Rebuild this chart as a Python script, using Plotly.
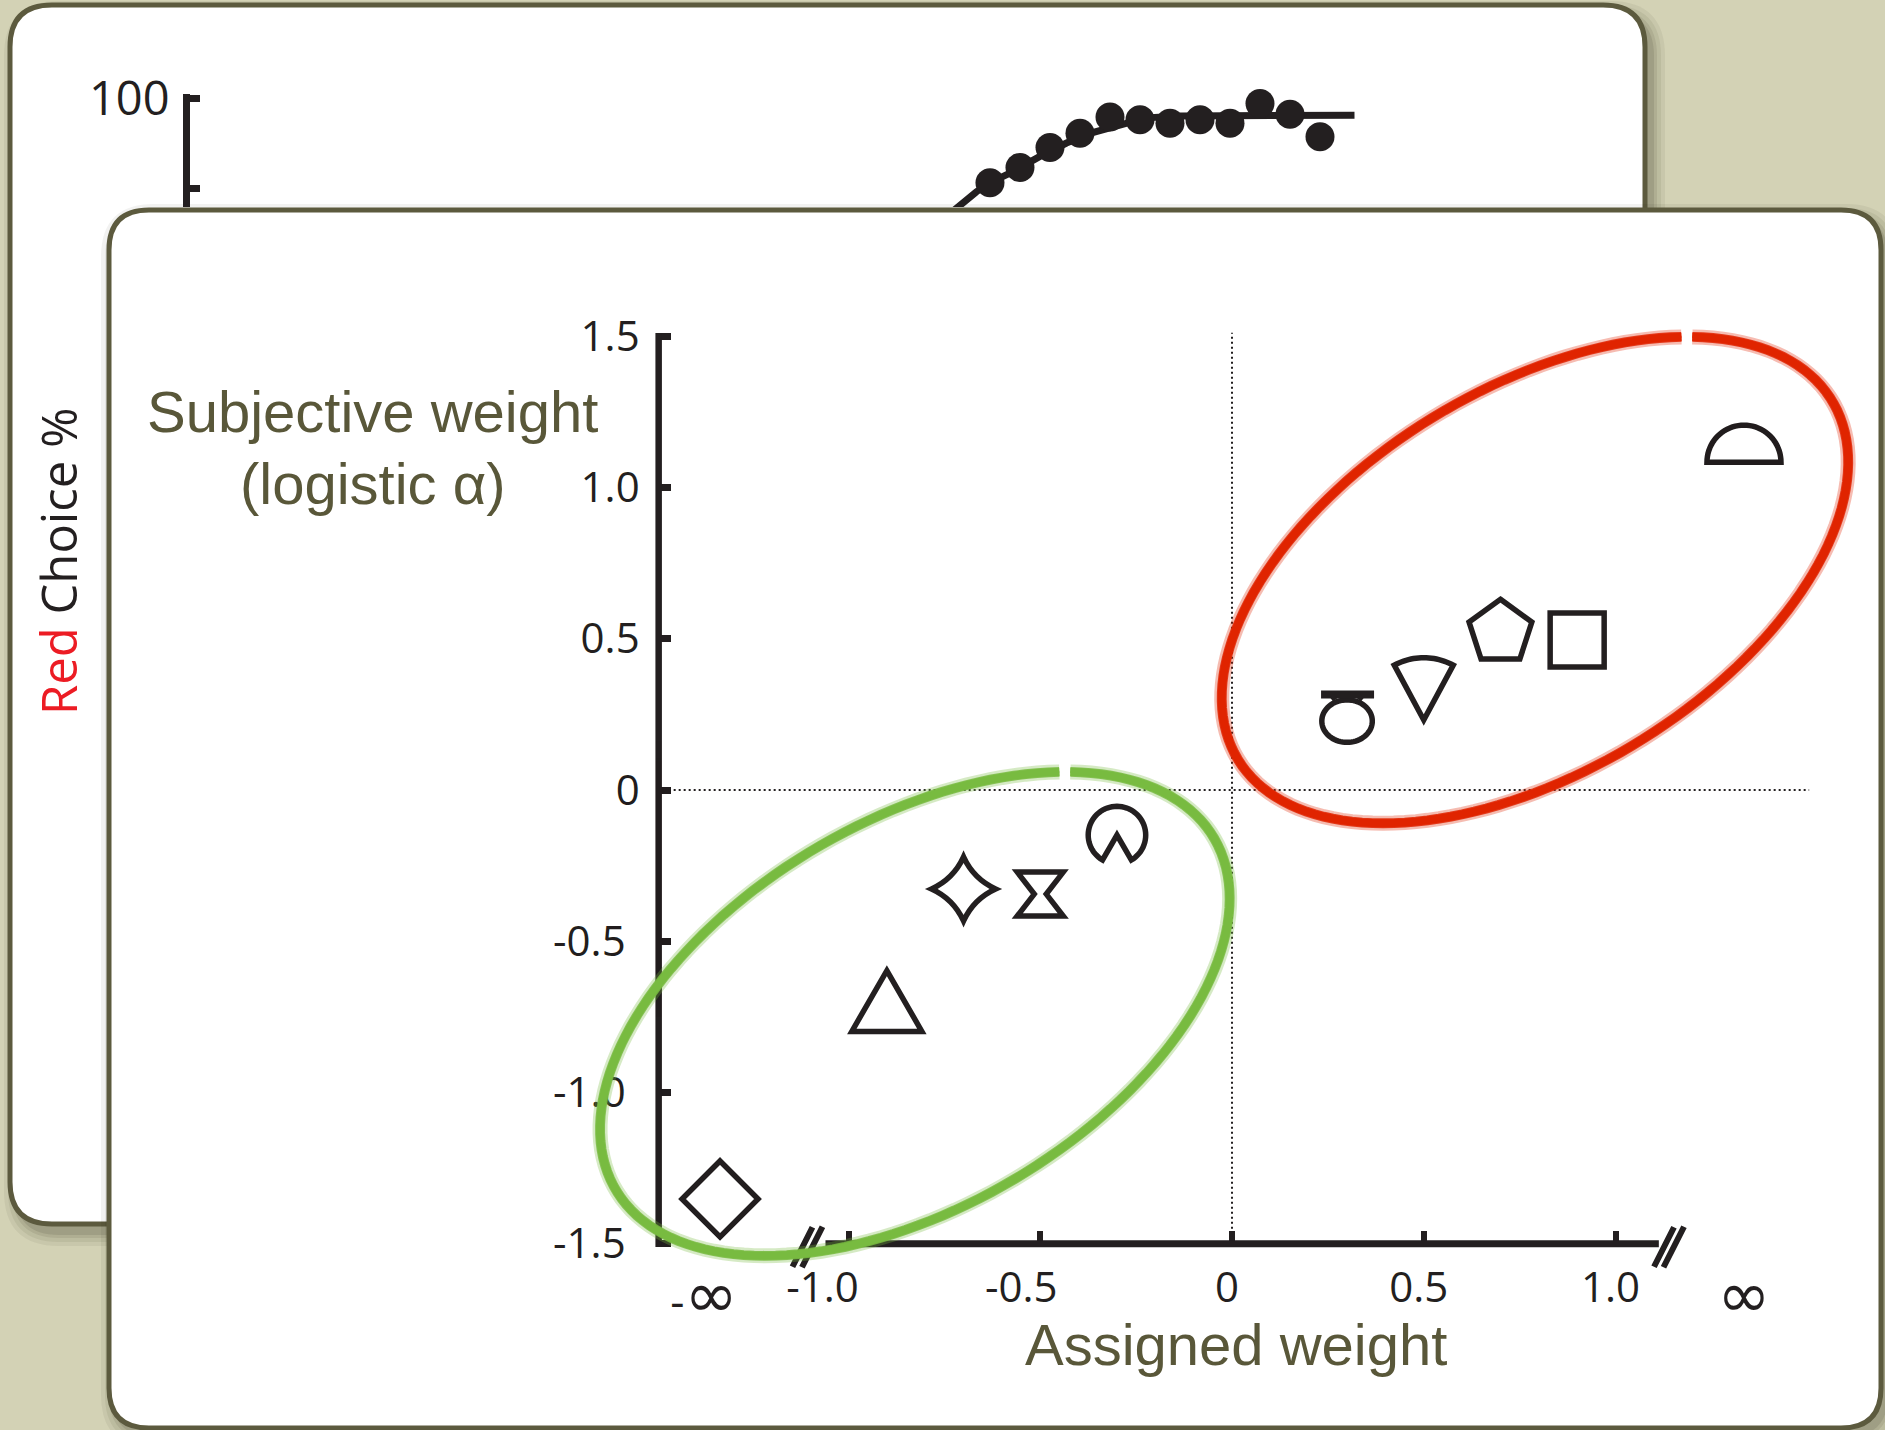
import math
import plotly.graph_objects as go

W, H = 1885, 1430
INF = float("inf")

# ------------------------------------------------------------------ data
# Back card: psychometric curve (percentage of red choices), visible plateau only
back_x = [1.1, 1.3, 1.5, 1.7, 1.9, 2.1, 2.3, 2.5, 2.7, 2.9, 3.1, 3.3]
back_pct = [90.6, 92.3, 94.5, 96.1, 97.9, 97.6, 97.2, 97.6, 97.2, 99.4, 98.2, 95.7]
fit_x = [0.8, 0.88, 1.01, 1.1, 1.25, 1.43, 1.61, 1.79, 1.97, 2.14, 2.37, 3.53]
fit_pct = [86.7, 87.9, 89.6, 90.6, 91.8, 93.5, 95.0, 96.2, 97.1, 97.8, 98.0, 98.1]
back_tickvals = [90, 100]
back_ticktext = ["", "100"]

# Front card: subjective weight (logistic alpha) vs assigned weight, one glyph per shape
shape_names = ["diamond", "triangle", "star", "hourglass", "pacman",
               "ring_bar", "fan", "pentagon", "square", "semicircle"]
assigned_weight = [-INF, -0.9, -0.7, -0.5, -0.3, 0.3, 0.5, 0.7, 0.9, INF]
subjective_weight = [-1.352, -0.693, -0.327, -0.344, -0.149,
                     0.241, 0.329, 0.532, 0.496, 1.145]

y_tickvals = [-1.5, -1.0, -0.5, 0, 0.5, 1.0, 1.5]
y_ticktext = ["-1.5", "-1.0", "-0.5", "0", "0.5", "1.0", "1.5"]
x_tickvals = [-1.0, -0.5, 0, 0.5, 1.0]
x_ticktext = ["-1.0", "-0.5", "0", "0.5", "1.0"]
inf_ticktext = ["-\u221e", "\u221e"]

# ------------------------------------------------------------------ layout constants
INK = "#231f20"
OLIVE = "#595739"
BORDER = "#5c5a3e"
BG = "#d3d2b5"
NUM_FONT = "Open Sans"
TITLE_FONT = "Liberation Sans"

INF_POS = 1.335            # where +/- infinity is drawn on the broken axis
X0_PX, XS = 1232.0, 383.5  # pixel of x=0 and pixels per unit (front)
Y0_PX, YS = 790.0, 302.5
X2_RANGE = [-1.75, 1.68]
Y2_RANGE = [-1.68, 1.57]
YAXIS_X = -1.495            # data x where the front y-axis sits
XAXIS_Y = -1.5              # data y where the front x-axis sits
X_LINE = [-1.06, 1.113]     # drawn extent of x-axis line between the breaks
BREAK_L, BREAK_R = -1.107, 1.1395

dom_x2 = [(X0_PX + XS * r) / W for r in X2_RANGE]
dom_y2 = [1 - (Y0_PX - YS * r) / H for r in Y2_RANGE]
pos_yaxis2 = (X0_PX + XS * YAXIS_X) / W
pos_xaxis2 = 1 - (Y0_PX - YS * XAXIS_Y) / H

# back plot area (pixels)
BX_PX = (190, 1380)
BX_RANGE = [-4.233, 3.7]
BY_PX = (207, 94)
BY_RANGE = [87.9, 100.45]

plot_x = [(-INF_POS if v == -INF else INF_POS if v == INF else v) for v in assigned_weight]


# ------------------------------------------------------------------ helpers
def fmt(pts):
    return " L".join(f"{x:.2f},{y:.2f}" for x, y in pts)


def poly(pts, close=True):
    return "M" + fmt(pts) + (" Z" if close else "")


def arc_pts(cx, cy, rx, ry, a0, a1, n):
    out = []
    for i in range(n + 1):
        a = math.radians(a0 + (a1 - a0) * i / n)
        out.append((cx + rx * math.cos(a), cy + ry * math.sin(a)))
    return out


def rrect(x0, y0, x1, y1, r):
    # page pixels (y down) -> pixel offsets from top-left (y up)
    Y = lambda v: -v
    return (f"M{x0 + r},{Y(y0)} L{x1 - r},{Y(y0)} Q{x1},{Y(y0)} {x1},{Y(y0 + r)} "
            f"L{x1},{Y(y1 - r)} Q{x1},{Y(y1)} {x1 - r},{Y(y1)} L{x0 + r},{Y(y1)} "
            f"Q{x0},{Y(y1)} {x0},{Y(y1 - r)} L{x0},{Y(y0 + r)} Q{x0},{Y(y0)} {x0 + r},{Y(y0)} Z")


def ellipse_path(A, B, theta_deg, gap=0.02, n=160):
    th = math.radians(theta_deg)
    t_top = math.atan2(B * math.cos(th), A * math.sin(th))
    pts = []
    for i in range(n + 1):
        t = t_top + gap + (2 * math.pi - 2 * gap) * i / n
        x = A * math.cos(t) * math.cos(th) - B * math.sin(t) * math.sin(th)
        y = A * math.cos(t) * math.sin(th) + B * math.sin(t) * math.cos(th)
        pts.append((x, y))
    return poly(pts, close=False)


GW = 5.5
GLYPHS = {
    "diamond": [(poly([(0, 38), (38, 0), (0, -38), (-38, 0)]), GW)],
    "triangle": [(poly([(0, 29), (35, -31.75), (-35, -31.75)]), GW)],
    "star": [("M0,32 Q10,10 32,0 Q10,-10 0,-32 Q-10,-10 -32,0 Q-10,10 0,32 Z", GW)],
    "hourglass": [(poly([(-23, 22), (23, 22), (6, 0), (23, -22), (-23, -22), (-6, 0)]), GW)],
    "pacman": [(poly(arc_pts(0, 0, 28.75, 28.75, -60, 240, 60) + [(0, 0)]), GW)],
    "ring_bar": [(poly(arc_pts(0, -4, 25.25, 21.25, 0, 360, 72)), GW),
                 ("M-26,22.5 L27,22.5", 8),
                 ("M-15,21 L-12,17 M15,21 L12,17", 5)],
    "fan": [(poly([(0, -29.5)] + arc_pts(0, -29.5, 62.25, 62.25, 61.7, 118.3, 24)), GW)],
    "pentagon": [(poly([(33 * math.sin(math.radians(72 * k)),
                         33 * math.cos(math.radians(72 * k)) - 3.2) for k in range(5)]), GW)],
    "square": [(poly([(-27, 27), (27, 27), (27, -27), (-27, -27)]), GW)],
    "semicircle": [(poly(arc_pts(0, -18.5, 37, 37, 0, 180, 40)), GW)],
}

# ------------------------------------------------------------------ shapes
shapes = []


def paper_path(path, fill, line_color="rgba(0,0,0,0)", lw=0):
    shapes.append(dict(type="path", xref="paper", yref="paper",
                       xsizemode="pixel", ysizemode="pixel", xanchor=0, yanchor=1,
                       path=path, fillcolor=fill, line=dict(color=line_color, width=lw),
                       layer="below"))


BACK_CARD = (10, 5, 1645, 1224, 42)
FRONT_CARD = (109, 210, 1881, 1428, 40)

for card, (dx, dy) in ((BACK_CARD, (7, 9)), (FRONT_CARD, (5, 7))):
    x0, y0, x1, y1, r = card
    for e, a in ((13, 0.06), (9, 0.07), (5, 0.09), (2, 0.11)):
        paper_path(rrect(x0 + dx - e, y0 + dy - e, x1 + dx + e, y1 + dy + e, r + e),
                   f"rgba(40,38,20,{a})")
    paper_path(rrect(x0, y0, x1, y1, r), "#ffffff", BORDER, 5)


def data_line(x0, y0, x1, y1, width, dash="solid", color=INK):
    shapes.append(dict(type="line", xref="x2", yref="y2", x0=x0, y0=y0, x1=x1, y1=y1,
                       line=dict(color=color, width=width, dash=dash), layer="above"))


def pix_path(xa, ya, path, color, width, opacity=1.0):
    shapes.append(dict(type="path", xref="x2", yref="y2",
                       xsizemode="pixel", ysizemode="pixel", xanchor=xa, yanchor=ya,
                       path=path, fillcolor="rgba(0,0,0,0)", opacity=opacity,
                       line=dict(color=color, width=width), layer="above"))


# reference lines
data_line(YAXIS_X, 0, 1.505, 0, 2, dash="2px,3px")
data_line(0, XAXIS_Y, 0, 1.512, 2, dash="2px,3px")
# axis lines (broken x-axis)
data_line(YAXIS_X, -1.511, YAXIS_X, 1.511, 6.5)
data_line(X_LINE[0], XAXIS_Y, X_LINE[1], XAXIS_Y, 7)
BREAK = "M-15,-23 L5,16.5 M-5.5,-23.5 L15,17"
pix_path(BREAK_L, XAXIS_Y, BREAK, INK, 6)
pix_path(BREAK_R, XAXIS_Y, BREAK, INK, 6)

# glyphs
for name, xv, yv in zip(shape_names, plot_x, subjective_weight):
    for path, w in GLYPHS[name]:
        pix_path(xv, yv, path, INK, w)

# hand-drawn (crayon-like) group ellipses
ELLIPSES = [
    ((0.790, 0.694), (347, 192, 31.1), "#e02400"),
    ((-0.827, -0.740), (347, 193, 30.4), "#78bb40"),
]
for (cx, cy), (A, B, th), col in ELLIPSES:
    pix_path(cx, cy, ellipse_path(A, B, th), col, 15, opacity=0.3)
    pix_path(cx, cy, ellipse_path(A + 2, B + 2, th), col, 6, opacity=0.85)
    pix_path(cx, cy, ellipse_path(A - 2, B - 2, th), col, 6, opacity=0.85)
    pix_path(cx, cy, ellipse_path(A, B, th), col, 8)

# ------------------------------------------------------------------ traces
fig = go.Figure()
fig.add_trace(go.Scatter(x=fit_x, y=fit_pct, mode="lines", xaxis="x", yaxis="y",
                         line=dict(color=INK, width=7), hoverinfo="skip"))
fig.add_trace(go.Scatter(x=back_x, y=back_pct, mode="markers", xaxis="x", yaxis="y",
                         cliponaxis=False, marker=dict(size=29, color=INK)))
fig.add_trace(go.Scatter(x=plot_x, y=subjective_weight, mode="markers", xaxis="x2", yaxis="y2",
                         text=shape_names, marker=dict(size=40, opacity=0),
                         cliponaxis=False))
fig.add_trace(go.Scatter(x=[0], y=[0], mode="markers", xaxis="x3", yaxis="y2",
                         marker=dict(opacity=0), hoverinfo="skip"))

NEG_Y = "\u2009\u2006"
yt = [t + NEG_Y if t.startswith("-") else t for t in y_ticktext]
xt = []
for t in x_ticktext:
    if t == "-1.0":
        xt.append(t + "\u2003")
    elif t.startswith("-"):
        xt.append(t + "\u2002\u2009")
    else:
        xt.append(t)
it = [("<span style='font-family:Open Sans;font-size:44px'>-</span>" + t[1:] + "\u2002")
      if t.startswith("-") else t for t in inf_ticktext]

num_font = dict(family=NUM_FONT, size=42, color=INK)

fig.update_layout(
    width=W, height=H, autosize=False,
    margin=dict(l=0, r=0, t=0, b=0, pad=0, autoexpand=False),
    paper_bgcolor=BG, plot_bgcolor="rgba(0,0,0,0)",
    showlegend=False,
    shapes=shapes,
    xaxis=dict(domain=[BX_PX[0] / W, BX_PX[1] / W], range=BX_RANGE, visible=False,
               anchor="y", automargin=False),
    yaxis=dict(domain=[1 - BY_PX[0] / H, 1 - BY_PX[1] / H], range=BY_RANGE, anchor="x",
               showline=True, linewidth=7, linecolor=INK, ticks="inside", ticklen=10,
               tickwidth=7, tickcolor=INK, tickvals=back_tickvals, ticktext=back_ticktext,
               tickfont=dict(family=NUM_FONT, size=47, color=INK), showgrid=False,
               zeroline=False, ticklabelstandoff=4, automargin=False),
    xaxis2=dict(domain=dom_x2, range=X2_RANGE, anchor="free", position=pos_xaxis2,
                showline=False, ticks="inside", ticklen=13, tickwidth=6, tickcolor=INK,
                tickvals=x_tickvals, ticktext=xt, tickfont=num_font, showgrid=False,
                zeroline=False, ticklabelstandoff=15, ticklabelshift=-5, automargin=False),
    yaxis2=dict(domain=dom_y2, range=Y2_RANGE, anchor="free", position=pos_yaxis2,
                showline=False, ticks="inside", ticklen=11, tickwidth=6.5, tickcolor=INK,
                tickvals=y_tickvals, ticktext=yt, tickfont=num_font, showgrid=False,
                zeroline=False, ticklabelstandoff=19, automargin=False),
    xaxis3=dict(overlaying="x2", range=X2_RANGE, anchor="free", position=pos_xaxis2,
                showline=False, ticks="", tickvals=[-INF_POS, INF_POS], ticktext=it,
                tickfont=dict(family="DejaVu Sans", size=64, color=INK),
                showgrid=False, zeroline=False, ticklabelstandoff=8, automargin=False),
    annotations=[
        dict(text="<span style='color:#ec1c24'>Red</span> Choice %", x=58 / W, y=1 - 562 / H,
             xref="paper", yref="paper", showarrow=False, textangle=-90,
             xanchor="center", yanchor="middle",
             font=dict(family=NUM_FONT, size=49, color=INK)),
        dict(text="Subjective weight", x=372 / W, y=1 - 412 / H, xref="paper", yref="paper",
             showarrow=False, xanchor="center", yanchor="middle",
             font=dict(family=TITLE_FONT, size=58, color=OLIVE)),
        dict(text="(logistic \u03b1)", x=373 / W, y=1 - 483 / H, xref="paper", yref="paper",
             showarrow=False, xanchor="center", yanchor="middle",
             font=dict(family=TITLE_FONT, size=58, color=OLIVE)),
        dict(text="Assigned weight", x=1236 / W, y=1 - 1344 / H, xref="paper", yref="paper",
             showarrow=False, xanchor="center", yanchor="middle",
             font=dict(family=TITLE_FONT, size=58, color=OLIVE)),
    ],
)

PAGE_FIX = ("document.documentElement.style.margin='0';"
            "document.documentElement.style.overflow='hidden';"
            "document.body.style.margin='0';document.body.style.padding='0';"
            "document.body.style.overflow='hidden';"
            "var d=document.getElementById('{plot_id}');"
            "d.style.position='fixed';d.style.left='0px';d.style.top='0px';")

fig.write_html("out.html", post_script=PAGE_FIX,
               config={"displayModeBar": False, "responsive": False})
